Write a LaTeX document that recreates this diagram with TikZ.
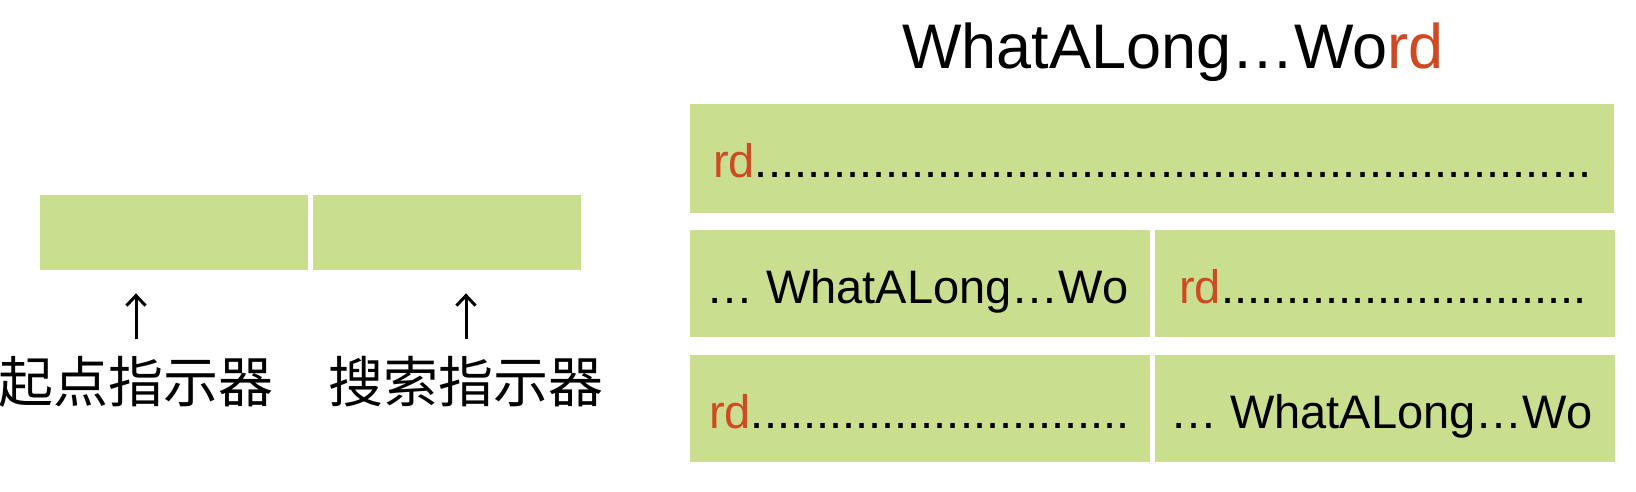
\documentclass[tikz,border=0pt]{standalone}
\usepackage{fontspec}
\setmainfont{Liberation Sans}
\newfontfamily\cjk{Noto Sans CJK SC}
\usetikzlibrary{arrows.meta,positioning}

\definecolor{cellgreen}{RGB}{201,223,143}
\definecolor{tailred}{RGB}{207,74,34}
\newcommand{\dotrun}[1]{\foreach \i in {1,...,#1}{.}}
\newcommand{\tail}{\textcolor{tailred}{rd}}

\begin{document}
\begin{tikzpicture}[x=1pt, y=-1pt,
    ptr/.style={fill=cellgreen, inner sep=0pt, minimum height=75pt,
      minimum width=268pt},
    cell/.style={fill=cellgreen, inner sep=0pt, minimum height=107pt,
      minimum width=460pt},
    lbl/.style={font=\cjk\fontsize{55}{60}\selectfont, inner sep=0pt},
    txt/.style={font=\fontsize{47}{52}\selectfont, inner sep=0pt,
      anchor=base west},
    arrow/.style={-{Straight Barb[length=10pt,width=19pt]}, line width=3pt}
  ]
    \useasboundingbox (0,0) rectangle (1636,492);

    \node[ptr, anchor=north west] (start) at (40,195) {};
    \node[ptr, right=4pt of start] (search) {};

    \node[lbl] (startlbl) at (136,382) {起点指示器};
    \node[lbl] (searchlbl) at (466,382) {搜索指示器};

    \draw[arrow, shorten <=17pt, shorten >=23pt]
      (startlbl.north) -- (startlbl.north |- start.south);
    \draw[arrow, shorten <=17pt, shorten >=23pt]
      (searchlbl.north) -- (searchlbl.north |- search.south);

    \node[font=\fontsize{63}{70}\selectfont, inner sep=0pt, anchor=base]
      (word) at (1173,69) {WhatALong\ldots Wo\tail};

    \node[cell, minimum width=924pt, minimum height=109pt, anchor=north west]
      (row1) at (690,104) {};
    \node[cell, anchor=north west] (row2a) at (690,230) {};
    \node[cell, right=4pt of row2a] (row2b) {};
    \node[cell, anchor=north west] (row3a) at (690,355) {};
    \node[cell, right=4pt of row3a] (row3b) {};

    \node[txt] (t1) at (713,178) {\tail\dotrun{64}};
    \node[txt] (t2a) at (706,303) {\ldots\ WhatALong\ldots Wo};
    \node[txt] (t2b) at (1179,303) {\tail\dotrun{28}};
    \node[txt] (t3a) at (709,428) {\tail\dotrun{29}};
    \node[txt] (t3b) at (1170,428) {\ldots\ WhatALong\ldots Wo};
  \end{tikzpicture}
\end{document}
